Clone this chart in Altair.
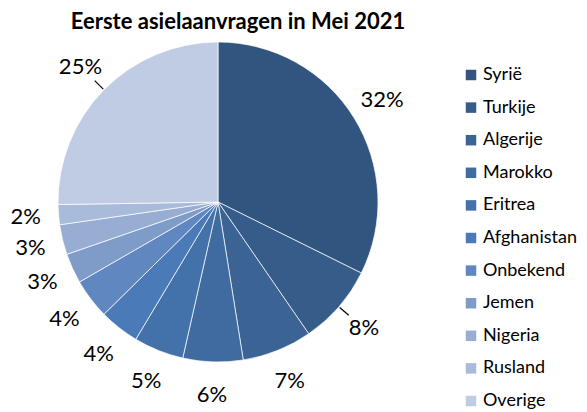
import altair as alt
import pandas as pd

categories = ["Syrië", "Turkije", "Algerije", "Marokko", "Eritrea", "Afghanistan",
              "Onbekend", "Jemen", "Nigeria", "Rusland", "Overige"]
values = [32, 8, 7, 6, 5, 4, 4, 3, 3, 2, 25]
colors = ["#31557f", "#365c89", "#3b6494", "#3f6ba0", "#4372ab", "#4a7bb8",
          "#6187c0", "#7f9cc9", "#97add2", "#a9bbda", "#c0cce3"]
leader_slices = ["Turkije", "Overige"]

df = pd.DataFrame({
    "land": categories,
    "pct": values,
    "label": [f"{v}%" for v in values],
    "idx": list(range(len(categories))),
})

FONT = "Lato"
W, H = 436, 324
R = 160

base = alt.Chart(df).encode(
    theta=alt.Theta("pct:Q", stack=True),
    order=alt.Order("idx:Q", sort="ascending"),
)

pie = base.mark_arc(outerRadius=R, stroke="white", strokeWidth=0.7).encode(
    color=alt.Color(
        "land:N",
        scale=alt.Scale(domain=categories, range=colors),
        legend=alt.Legend(
            title=None,
            orient="none",
            legendX=462,
            legendY=26,
            symbolType="square",
            symbolSize=110,
            symbolStrokeWidth=0,
            labelFontSize=18,
            labelFont=FONT,
            labelColor="#000000",
            rowPadding=14.6,
            labelOffset=3,
            padding=0,
        ),
    )
)

labels = base.mark_text(radius=193, fontSize=22, font=FONT, color="#000000").encode(
    text="label:N"
)

leaders = (
    alt.Chart(df)
    .transform_joinaggregate(total="sum(pct)")
    .transform_window(cum="sum(pct)", sort=[alt.SortField("idx")], frame=[None, 0])
    .transform_filter(alt.FieldOneOfPredicate(field="land", oneOf=leader_slices))
    .transform_calculate(
        mid="(datum.cum - datum.pct / 2) / datum.total * 2 * PI",
        r0=f"{R + 1}",
        r1=f"{R + 13}",
    )
    .transform_fold(["r0", "r1"], as_=["which", "r"])
    .transform_calculate(
        px=f"{W / 2} + datum.r * sin(datum.mid)",
        py=f"{H / 2} - datum.r * cos(datum.mid)",
    )
    .mark_line(color="#000000", strokeWidth=1.2)
    .encode(
        x=alt.X("px:Q", scale=None, axis=None),
        y=alt.Y("py:Q", scale=None, axis=None),
        detail="land:N",
        order="r:Q",
    )
)

chart = (
    alt.layer(pie, labels, leaders)
    .properties(
        width=W,
        height=H,
        padding={"left": 0, "top": 40, "right": 151, "bottom": 48},
        autosize=alt.AutoSizeParams(type="none"),
        title=alt.TitleParams(
            "Eerste asielaanvragen in Mei 2021",
            font=FONT,
            fontSize=22,
            fontWeight="bold",
            color="#000000",
            anchor="middle",
            dx=20,
            offset=6,
        ),
    )
    .configure_view(stroke=None)
)

chart.save("out.html", embed_options={"renderer": "svg", "actions": False})
